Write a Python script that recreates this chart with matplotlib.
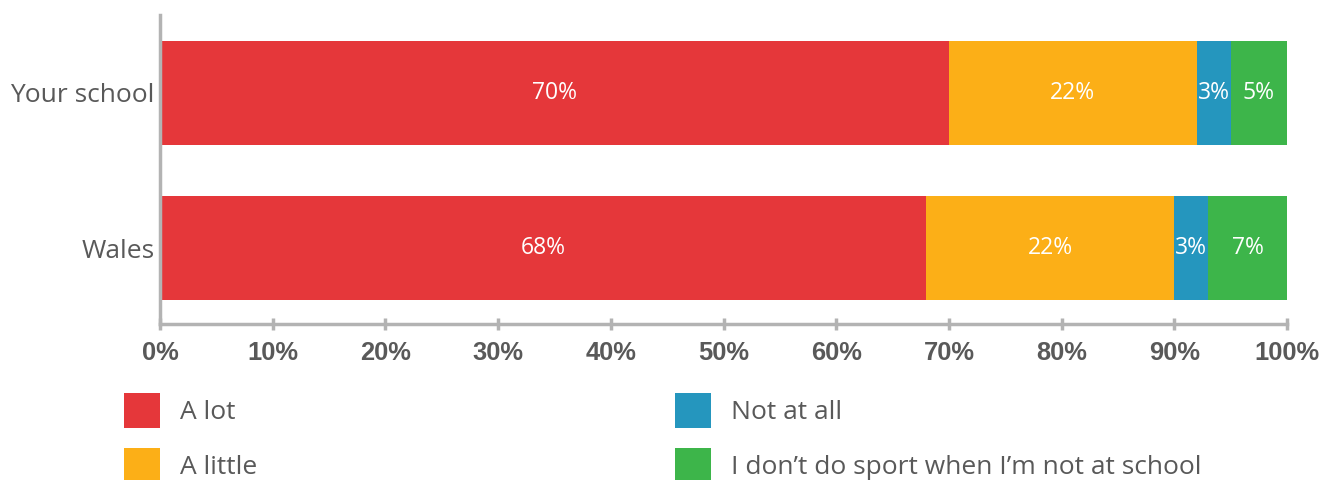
import matplotlib.pyplot as plt
from matplotlib.ticker import PercentFormatter

groups = ["Your school", "Wales"]
series = ["A lot", "A little", "Not at all", "I don\u2019t do sport when I\u2019m not at school"]
values = {
    "A lot": [70, 68],
    "A little": [22, 22],
    "Not at all": [3, 3],
    "I don\u2019t do sport when I\u2019m not at school": [5, 7],
}
colors = ["#E5373A", "#FCAF17", "#2596BE", "#3DB54A"]
xticks = list(range(0, 101, 10))

grey = "#595959"
axis_grey = "#b3b3b3"

fig = plt.figure(figsize=(13.21, 4.8), dpi=100)
ax = fig.add_axes([0.1211, 0.325, 0.8532, 0.64375])

ypos = [0, 1]
left = [0, 0]
containers = []
for name, col in zip(series, colors):
    vals = values[name]
    bars = ax.barh(ypos, vals, left=left, height=0.67, color=col, label=name)
    containers.append(bars)
    for y, l, v in zip(ypos, left, vals):
        ax.text(l + v / 2, y, f"{v}%", ha="center", va="center",
                color="white", fontsize=16.5, family="Open Sans")
    left = [a + b for a, b in zip(left, vals)]

ax.set_xlim(0, 100)
ax.set_ylim(1.49, -0.503)
ax.set_xticks(xticks)
ax.xaxis.set_major_formatter(PercentFormatter(decimals=0))
ax.set_yticks(ypos)
ax.set_yticklabels(groups, fontsize=19, color=grey, family="Open Sans")
ax.tick_params(axis="y", length=0, pad=4)
ax.tick_params(axis="x", direction="inout", length=9, width=2.5, color=axis_grey,
               labelsize=18.4, labelcolor=grey, pad=8)
for lab in ax.get_xticklabels():
    lab.set_fontweight("bold")
    lab.set_family("Liberation Sans")

for s in ["top", "right"]:
    ax.spines[s].set_visible(False)
for s in ["left", "bottom"]:
    ax.spines[s].set_color(axis_grey)
    ax.spines[s].set_linewidth(2.5)

leg_kw = dict(frameon=False, handlelength=1.36, handleheight=1.65, handletextpad=0.76,
              labelspacing=0.75, prop={"family": "Open Sans", "size": 19},
              labelcolor=grey, borderaxespad=0, borderpad=0)
leg1 = fig.legend(containers[:2], series[:2], loc="upper left",
                  bbox_to_anchor=(124 / 1321, 1 - 393 / 480), **leg_kw)
leg2 = fig.legend(containers[2:], series[2:], loc="upper left",
                  bbox_to_anchor=(675 / 1321, 1 - 393 / 480), **leg_kw)

plt.savefig("out.png", dpi=100)
